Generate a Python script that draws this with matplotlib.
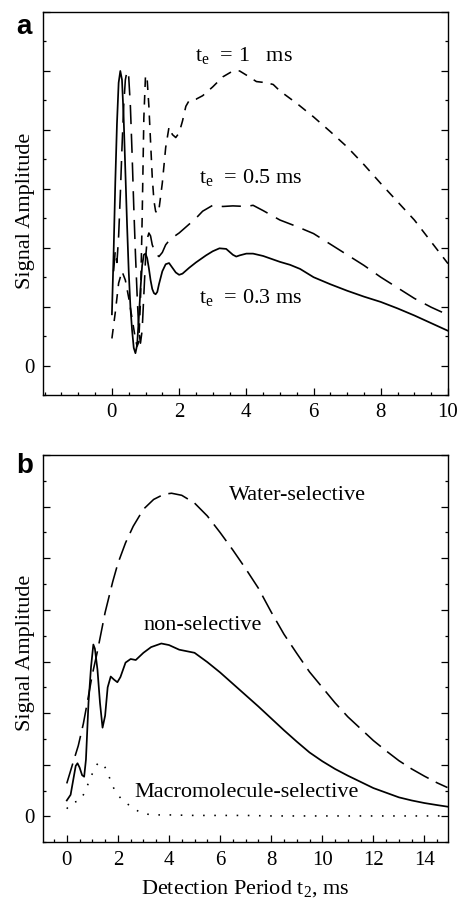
#!/usr/bin/env python3
"""Two-panel signal amplitude vs detection period (a: echo times, b: selectivity)."""

import matplotlib
matplotlib.use('Agg')
import matplotlib.pyplot as plt
from matplotlib.ticker import MultipleLocator, FixedLocator

plt.rcParams['font.family'] = 'Liberation Serif'
plt.rcParams['font.size'] = 15
plt.rcParams['mathtext.fontset'] = 'custom'
plt.rcParams['mathtext.rm'] = 'Liberation Serif'
plt.rcParams['mathtext.default'] = 'regular'

# ── Panel a data ──
te03_x = [0, 0.05, 0.1, 0.15, 0.2, 0.25, 0.3, 0.35, 0.4, 0.45, 0.5, 0.55, 0.6, 0.65,
          0.7, 0.75, 0.8, 0.85, 0.9, 0.95, 1.0, 1.05, 1.1, 1.15, 1.2, 1.25, 1.3, 1.35,
          1.4, 1.5, 1.6, 1.7, 1.8, 1.9, 2.0, 2.1, 2.3, 2.5, 2.8, 3.0, 3.2, 3.4, 3.6,
          3.7, 3.8, 4.0, 4.2, 4.5, 4.8, 5.0, 5.3, 5.6, 6.0, 6.5, 7.0, 7.5, 8.0, 8.5,
          9.0, 9.5, 10.0]
te03_y = [0.87, 1.9, 3.1, 4.1, 4.8, 5.0, 4.85, 4.2, 3.3, 2.4, 1.6, 1.0, 0.6, 0.3,
          0.21, 0.35, 0.8, 1.3, 1.7, 1.88, 1.9, 1.82, 1.65, 1.45, 1.3, 1.23, 1.21, 1.25,
          1.38, 1.6, 1.72, 1.74, 1.66, 1.58, 1.54, 1.56, 1.66, 1.75, 1.87, 1.94, 1.99, 1.98, 1.88,
          1.85, 1.87, 1.9, 1.9, 1.86, 1.8, 1.76, 1.71, 1.64, 1.5, 1.38, 1.27, 1.17, 1.08, 0.97,
          0.85, 0.72, 0.59]

te05_x = [0.05, 0.1, 0.15, 0.2, 0.25, 0.3, 0.35, 0.4, 0.45, 0.5, 0.55, 0.6, 0.65, 0.7,
          0.75, 0.8, 0.85, 0.9, 0.95, 1.0, 1.05, 1.1, 1.15, 1.2, 1.3, 1.4, 1.5, 1.6, 1.7,
          1.8, 2.0, 2.2, 2.5, 2.7, 3.0, 3.3, 3.6, 4.0, 4.2, 4.5, 5.0, 5.5, 6.0, 6.5, 7.0,
          7.5, 8.0, 8.5, 9.0, 9.5, 10.0]
te05_y = [1.6, 1.95, 1.75, 2.2, 2.9, 3.7, 4.4, 4.85, 5.0, 4.9, 4.4, 3.6, 2.7, 1.9,
          1.2, 0.6, 0.38, 0.6, 1.2, 1.8, 2.15, 2.25, 2.2, 2.05, 1.9, 1.85, 1.92, 2.05, 2.12,
          2.17, 2.25, 2.35, 2.5, 2.62, 2.72, 2.7, 2.71, 2.7, 2.72, 2.63, 2.47, 2.36, 2.24, 2.06, 1.88,
          1.7, 1.5, 1.32, 1.14, 0.99, 0.86]

te1_x = [0, 0.1, 0.2, 0.3, 0.4, 0.5, 0.6, 0.7, 0.75, 0.8, 0.85, 0.9, 0.95, 1.0, 1.05,
         1.1, 1.15, 1.2, 1.25, 1.3, 1.35, 1.4, 1.5, 1.6, 1.7, 1.8, 1.9, 2.0, 2.1, 2.2,
         2.3, 2.5, 2.7, 3.0, 3.3, 3.6, 3.8, 4.0, 4.3, 4.6, 4.8, 5.0, 5.5, 6.0, 6.5, 7.0,
         7.5, 8.0, 8.5, 9.0, 9.5, 10.0]
te1_y = [0.46, 0.9, 1.4, 1.6, 1.45, 1.15, 0.8, 0.45, 0.33, 0.4, 1.1, 2.5, 4.2, 4.93, 4.85,
         4.4, 3.8, 3.2, 2.8, 2.62, 2.58, 2.65, 3.1, 3.7, 4.05, 3.92, 3.87, 3.95, 4.15, 4.4,
         4.5, 4.52, 4.58, 4.73, 4.9, 5.0, 5.0, 4.93, 4.82, 4.8, 4.77, 4.66, 4.45, 4.22, 3.97, 3.71,
         3.41, 3.09, 2.78, 2.47, 2.1, 1.73]

# ── Panel b data ──
water_x = [0, 0.25, 0.45, 0.65, 0.8, 1.0, 1.2, 1.5, 1.8, 2.0, 2.3, 2.6, 3.0, 3.4, 3.8,
           4.1, 4.5, 5.0, 5.5, 6.0, 6.5, 7.0, 7.5, 8.0, 8.5, 9.0, 9.5, 10.0, 10.5, 11.0,
           11.5, 12.0, 12.5, 13.0, 13.5, 14.0, 14.5, 14.9]
water_y = [0.64, 1.05, 1.37, 1.8, 2.2, 2.75, 3.2, 3.95, 4.55, 4.9, 5.3, 5.62, 5.95, 6.14, 6.24,
           6.26, 6.22, 6.07, 5.82, 5.5, 5.16, 4.8, 4.42, 3.96, 3.53, 3.16, 2.8, 2.5, 2.2, 1.93,
           1.7, 1.47, 1.27, 1.08, 0.92, 0.78, 0.65, 0.56]

nonsel_x = [0, 0.15, 0.25, 0.35, 0.42, 0.5, 0.6, 0.68, 0.75, 0.85, 0.95, 1.04, 1.1, 1.2,
            1.3, 1.4, 1.5, 1.6, 1.72, 1.85, 1.98, 2.1, 2.3, 2.5, 2.7, 3.0, 3.3, 3.7, 4.0,
            4.4, 4.7, 5.0, 5.5, 6.0, 6.5, 7.0, 7.5, 8.0, 8.5, 9.0, 9.5, 10.0, 10.5, 11.0,
            11.5, 12.0, 12.5, 13.0, 13.5, 14.0, 14.5, 14.9]
nonsel_y = [0.31, 0.42, 0.7, 0.98, 1.03, 0.95, 0.8, 0.77, 1.1, 2.2, 2.9, 3.33, 3.25, 2.85,
            2.2, 1.72, 1.95, 2.5, 2.71, 2.65, 2.6, 2.7, 2.98, 3.05, 3.03, 3.17, 3.28, 3.35, 3.32,
            3.23, 3.2, 3.17, 2.99, 2.79, 2.57, 2.35, 2.13, 1.9, 1.67, 1.45, 1.24, 1.07, 0.92, 0.79,
            0.67, 0.55, 0.46, 0.37, 0.31, 0.26, 0.22, 0.19]

macro_x = [0, 0.2, 0.5, 0.65, 0.8, 0.95, 1.1, 1.25, 1.4, 1.5, 1.65, 1.8, 2.0, 2.2, 2.5,
           2.8, 3.0, 3.5, 4, 5, 6, 7, 8, 9, 10, 11, 12, 13, 14, 14.9]
macro_y = [0.15, 0.27, 0.3, 0.42, 0.59, 0.77, 0.95, 1.05, 1.02, 0.95, 0.78, 0.58, 0.42, 0.3, 0.2,
           0.1, 0.05, 0.03, 0.03, 0.02, 0.02, 0.02, 0.01, 0.01, 0.01, 0.01, 0.01, 0.01, 0.01, 0.01]

fig = plt.figure(figsize=(4.64, 9.05), dpi=100)
ax1 = fig.add_axes([0.0927, 0.5635, 0.8728, 0.4232])
ax2 = fig.add_axes([0.0927, 0.0693, 0.8728, 0.4279])


def style_axis(ax):
    ax.tick_params(which='both', direction='in', top=False, right=True,
                   labelsize=15, width=0.9)
    ax.tick_params(which='major', length=5, pad=6)
    ax.tick_params(which='minor', length=2.5)
    for s in ax.spines.values():
        s.set_linewidth(1.0)


# ── Panel a ──
ax1.plot(te03_x, te03_y, color='black', lw=1.25, ls='-')
ax1.plot(te05_x, te05_y, color='black', lw=1.15, ls=(0, (12, 6)))
ax1.plot(te1_x, te1_y, color='black', lw=1.15, ls=(0, (6, 5)))
ax1.set_xlim(-2.05, 10)
ax1.set_ylim(-0.5, 6.0)
ax1.xaxis.set_major_locator(FixedLocator([0, 2, 4, 6, 8, 10]))
ax1.xaxis.set_minor_locator(MultipleLocator(0.5))
ax1.yaxis.set_major_locator(MultipleLocator(1))
ax1.yaxis.set_minor_locator(MultipleLocator(0.5))
ax1.set_yticklabels(['' if v != 0 else '0' for v in ax1.get_yticks()])
ax1.set_ylabel('Signal Amplitude', fontsize=16)
ax1.yaxis.set_label_coords(-0.02, 0.48)
style_axis(ax1)
ax1.text(2.48, 5.27, 't$_e$  = 1   ms', fontsize=16, ha='left', va='center')
ax1.text(2.6, 3.2, 't$_e$  = 0.5 ms', fontsize=16, ha='left', va='center')
ax1.text(2.6, 1.16, 't$_e$  = 0.3 ms', fontsize=16, ha='left', va='center')
fig.text(0.035, 0.985, 'a', fontsize=20, fontweight='bold', family='Liberation Sans',
         ha='left', va='top')

# ── Panel b ──
ax2.plot(water_x, water_y, color='black', lw=1.15, ls=(0, (13, 5)))
ax2.plot(nonsel_x, nonsel_y, color='black', lw=1.25, ls='-')
ax2.plot(macro_x, macro_y, color='black', lw=1.15, ls=(0, (1, 6)))
ax2.set_xlim(-0.93, 14.92)
ax2.set_ylim(-0.5, 7.0)
ax2.xaxis.set_major_locator(MultipleLocator(2))
ax2.xaxis.set_minor_locator(MultipleLocator(0.5))
ax2.yaxis.set_major_locator(MultipleLocator(1))
ax2.yaxis.set_minor_locator(MultipleLocator(0.5))
ax2.set_yticklabels(['' if v != 0 else '0' for v in ax2.get_yticks()])
ax2.set_ylabel('Signal Amplitude', fontsize=16)
ax2.yaxis.set_label_coords(-0.02, 0.49)
ax2.set_xlabel('Detection Period t$_2$, ms', fontsize=16, labelpad=6)
style_axis(ax2)
ax2.text(6.33, 6.21, 'Water-selective', fontsize=16, ha='left', va='center')
ax2.text(3.02, 3.7, 'non-selective', fontsize=16, ha='left', va='center')
ax2.text(2.63, 0.47, 'Macromolecule-selective', fontsize=16, ha='left', va='center')
fig.text(0.035, 0.5, 'b', fontsize=20, fontweight='bold', family='Liberation Sans',
         ha='left', va='top')

fig.savefig('out.png', dpi=100)
plt.close()
